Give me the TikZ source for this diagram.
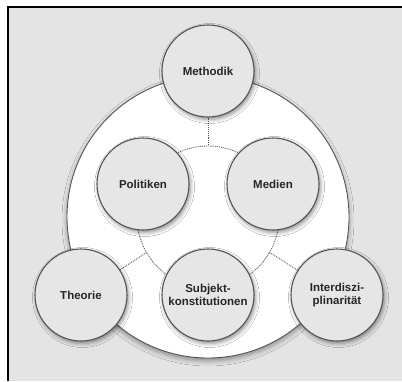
\documentclass[tikz,border=0pt]{standalone}
\usepackage{fontspec}
\setmainfont{Liberation Sans}
\usetikzlibrary{shadows.blur}
\definecolor{bg}{HTML}{E4E4E4}
\definecolor{nodefill}{HTML}{E6E6E6}
\definecolor{rim}{HTML}{555555}
\tikzset{
  x=1pt, y=-1pt,
  topic/.style={circle, minimum size=92pt, inner sep=0pt, fill=nodefill, draw=rim, line width=1.1pt,
    font=\fontsize{11.5}{13.5}\selectfont\bfseries, text=black!85, align=center,
    blur shadow={shadow xshift=1.5pt, shadow yshift=-2.5pt, shadow blur radius=4pt, shadow opacity=45}},
  link/.style={draw=rim, line width=0.9pt, densely dotted},
}
\begin{document}
\begin{tikzpicture}
\useasboundingbox (0,0) rectangle (402,381);
\fill[white] (0,0) rectangle (402,381);
\fill[bg] (8,7) rectangle (402,381);
\draw[black, line width=1.2pt] (8,381) -- (8,7) -- (402,7);
% big white disc
\coordinate (c) at (208,217);
\fill[white, blur shadow={shadow xshift=0pt, shadow yshift=-3pt, shadow blur radius=5pt, shadow opacity=40}] (c) circle (141);
\draw[rim, line width=0.9pt] (c) circle (141);
% inner dotted circle
\draw[link] (c) circle (71);
\coordinate (pM) at (208,146);
\coordinate (pT) at (146.5,252.5);
\coordinate (pI) at (269.5,252.5);
% nodes
\node[topic] (meth) at (208,71) {Methodik};
\node[topic] (pol) at (143,184) {Politiken};
\node[topic] (med) at (273,184) {Medien};
\node[topic] (sub) at (208,295) {Subjekt-\\konstitutionen};
\node[topic] (the) at (81,295) {Theorie};
\node[topic] (int) at (337,295) {Interdiszi-\\plinarität};
% connectors
\draw[link] (meth) -- (pM);
\draw[link] (the) -- (pT);
\draw[link] (int) -- (pI);
\end{tikzpicture}
\end{document}
